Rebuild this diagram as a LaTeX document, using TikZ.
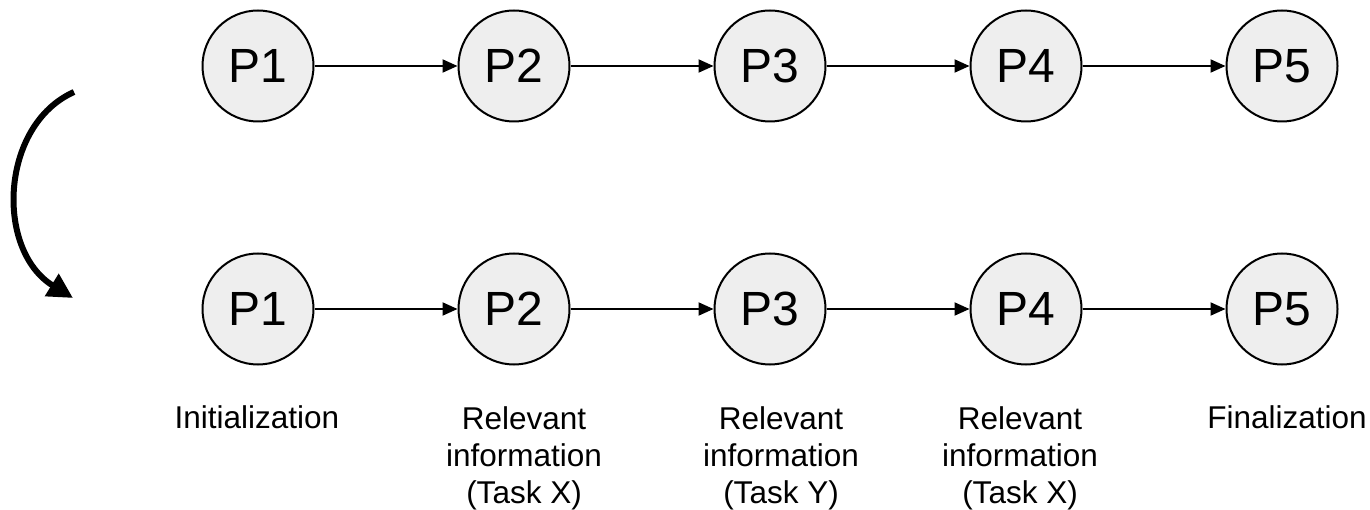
\documentclass[tikz,border=0pt]{standalone}
\usepackage{fontspec}
\setmainfont{Liberation Sans}
\usetikzlibrary{arrows.meta}

\definecolor{procfill}{HTML}{EEEEEE}

\begin{document}
\begin{tikzpicture}[x=1pt, y=-1pt,
  proc/.style={circle, draw=black, line width=2pt, fill=procfill,
    minimum size=111pt, inner sep=0pt, font=\fontsize{48}{52}\selectfont},
  flow/.style={line width=2pt, -{Triangle[length=15pt, width=13pt]}},
  bigturn/.style={line width=6pt, -{Triangle[length=25pt, width=25pt]}},
  caption/.style={align=center, inner sep=0pt, anchor=base,
    font=\fontsize{31.5}{37}\selectfont}]

\useasboundingbox (0,0) rectangle (1370,510);

% upper row of processes
\foreach \i/\x in {1/258, 2/514, 3/770, 4/1026, 5/1282}
  \node[proc] (a\i) at (\x,66) {P\i};

% lower row of processes
\foreach \i/\x in {1/258, 2/514, 3/770, 4/1026, 5/1282}
  \node[proc] (b\i) at (\x,309) {P\i};

% sequential links
\foreach \i/\j in {1/2, 2/3, 3/4, 4/5} {
  \draw[flow] (a\i) -- (a\j);
  \draw[flow] (b\i) -- (b\j);
}

% transition from the upper to the lower row
\coordinate (turnstart) at (74,92);
\coordinate (turnend) at (73,298);
\draw[bigturn] (turnstart) .. controls (0,125) and (-5,250) .. (turnend);

% role of each process
\node[caption] (c1) at (257,428) {Initialization};
\node[caption, anchor=north] (c2) at (524,406) {Relevant\\information\\(Task X)};
\node[caption, anchor=north] (c3) at (781,406) {Relevant\\information\\(Task Y)};
\node[caption, anchor=north] (c4) at (1020,406) {Relevant\\information\\(Task X)};
\node[caption] (c5) at (1287,428) {Finalization};

\end{tikzpicture}
\end{document}
